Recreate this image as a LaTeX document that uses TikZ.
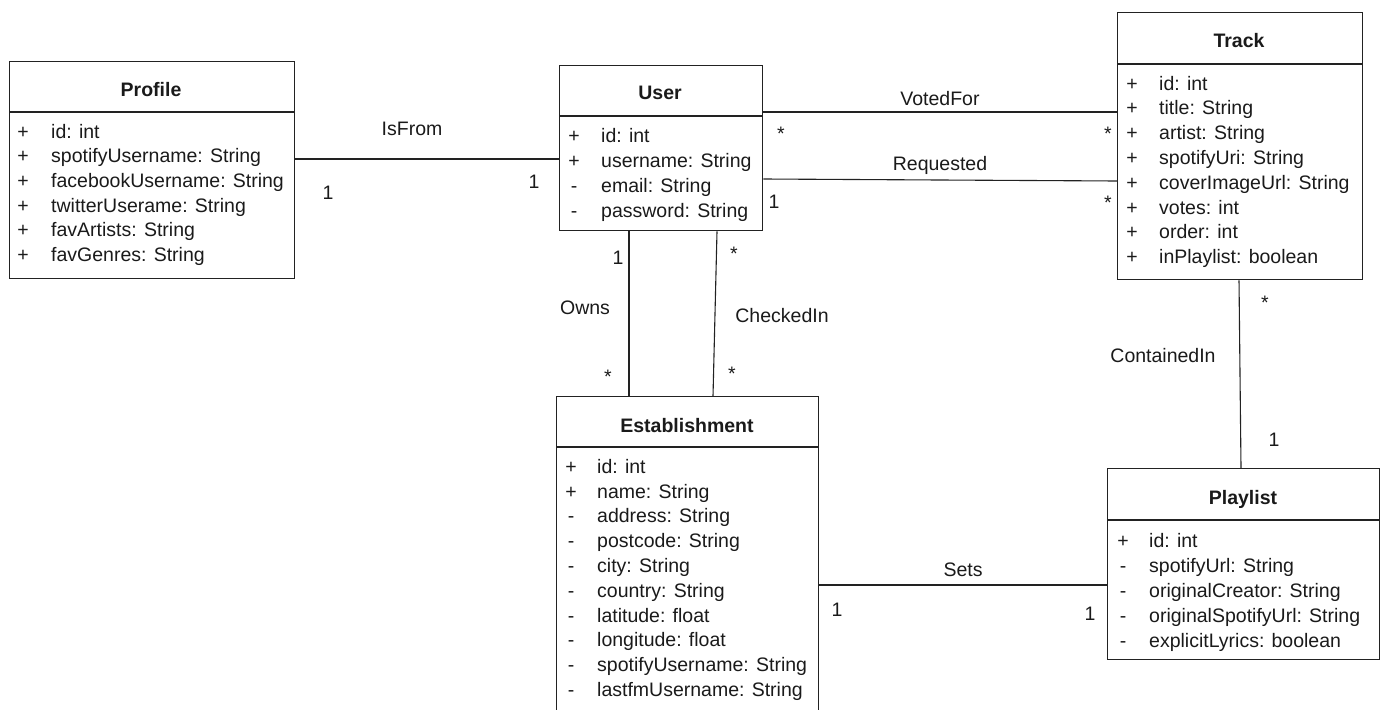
\documentclass[tikz,border=0pt]{standalone}
\usepackage{fontspec}
\setmainfont{Liberation Sans}
\definecolor{ink}{HTML}{1A1A1A}
\definecolor{edge}{HTML}{222222}
\begin{document}
\begin{tikzpicture}[x=1pt,y=-1pt,
  classbox/.style={draw=edge, line width=1.3pt, rectangle, inner sep=0pt, anchor=north west},
  ctitle/.style={font=\fontsize{19.5}{23}\selectfont\bfseries, text=ink, anchor=base, inner sep=0pt},
  attr/.style={font=\fontsize{19.5}{23}\selectfont, text=ink, anchor=base west, inner sep=0pt},
  vis/.style={font=\fontsize{19.5}{23}\selectfont, text=ink, anchor=base, inner sep=0pt},
  assoc/.style={draw=edge, line width=1.1pt},
  divider/.style={draw=edge, line width=1.3pt},
  lbl/.style={font=\fontsize{19.5}{23}\selectfont, text=ink, anchor=base, inner sep=0pt},
]
\useasboundingbox (0,0) rectangle (1388,709);

% ---------- class boxes ----------
\node[classbox, minimum width=285pt, minimum height=217pt] (profile) at (9,61) {};
\node[classbox, minimum width=203pt, minimum height=165pt] (user) at (559,65) {};
\node[classbox, minimum width=245pt, minimum height=267pt] (track) at (1117,12) {};
\node[classbox, minimum width=262pt, minimum height=330pt] (estab) at (556,396) {};
\node[classbox, minimum width=272pt, minimum height=191pt] (playlist) at (1107,468) {};

% compartment dividers
\draw[divider] (profile.west |- 0,112) -- (profile.east |- 0,112);
\draw[divider] (user.west |- 0,116) -- (user.east |- 0,116);
\draw[divider] (track.west |- 0,64) -- (track.east |- 0,64);
\draw[divider] (estab.west |- 0,447) -- (estab.east |- 0,447);
\draw[divider] (playlist.west |- 0,520) -- (playlist.east |- 0,520);

% class names
\node[ctitle] (tprofile) at (151,96) {Profile};
\node[ctitle] (tuser) at (660,99) {User};
\node[ctitle] (ttrack) at (1239,48) {Track};
\node[ctitle] (testab) at (687,432) {Establishment};
\node[ctitle] (tplaylist) at (1243,504) {Playlist};

% ---------- attributes ----------
\foreach [count=\i from 0] \s/\t in {+/id: int, +/spotifyUsername: String, +/facebookUsername: String, +/twitterUserame: String, +/favArtists: String, +/favGenres: String}{
  \node[vis] (pv\i) at (23,138+24.7*\i) {\s};
  \node[attr] (pa\i) at (51,138+24.7*\i) {\t};
}
\foreach [count=\i from 0] \s/\t in {+/id: int, +/username: String, -/email: String, -/password: String}{
  \node[vis] (uv\i) at (574,142.3+25.2*\i) {\s};
  \node[attr] (ua\i) at (601,142.3+25.2*\i) {\t};
}
\foreach [count=\i from 0] \s/\t in {+/id: int, +/title: String, +/artist: String, +/spotifyUri: String, +/coverImageUrl: String, +/votes: int, +/order: int, +/inPlaylist: boolean}{
  \node[vis] (tv\i) at (1132,90+24.8*\i) {\s};
  \node[attr] (ta\i) at (1159,90+24.8*\i) {\t};
}
\foreach [count=\i from 0] \s/\t in {+/id: int, +/name: String, -/address: String, -/postcode: String, -/city: String, -/country: String, -/latitude: float, -/longitude: float, -/spotifyUsername: String, -/lastfmUsername: String}{
  \node[vis] (ev\i) at (571,473.3+24.8*\i) {\s};
  \node[attr] (ea\i) at (597,473.3+24.8*\i) {\t};
}
\foreach [count=\i from 0] \s/\t in {+/id: int, -/spotifyUrl: String, -/originalCreator: String, -/originalSpotifyUrl: String, -/explicitLyrics: boolean}{
  \node[vis] (lv\i) at (1123,547.3+25*\i) {\s};
  \node[attr] (la\i) at (1149,547.3+25*\i) {\t};
}

% ---------- associations ----------
\draw[assoc] (profile.east |- 0,159) -- (user.west |- 0,159);
\draw[assoc] (user.east |- 0,112) -- (track.west |- 0,112);
\draw[assoc] (user.east |- 0,179) -- (track.west |- 0,181);
\draw[assoc] (user.south -| 629,0) -- (estab.north -| 629,0);
\draw[assoc] (user.south -| 717,0) -- (estab.north -| 713,0);
\draw[assoc] (track.south -| 1239,0) -- (playlist.north -| 1241,0);
\draw[assoc] (estab.east |- 0,585) -- (playlist.west |- 0,585);

% association names and multiplicities
\node[lbl] (nisfrom) at (412,135.7) {IsFrom};
\node[lbl] (m1) at (328,199) {1};
\node[lbl] (m2) at (534,188.3) {1};

\node[lbl] (nvoted) at (940,105) {VotedFor};
\node[lbl] (m3) at (781,140.5) {*};
\node[lbl] (m4) at (1108,140.5) {*};

\node[lbl] (nreq) at (940,170.5) {Requested};
\node[lbl] (m5) at (774,208) {1};
\node[lbl] (m6) at (1108,209) {*};

\node[lbl] (nowns) at (585,314.3) {Owns};
\node[lbl] (m7) at (618,264.3) {1};
\node[lbl] (m8) at (608,383) {*};

\node[lbl] (ncheck) at (782,322.3) {CheckedIn};
\node[lbl] (m9) at (734,260.7) {*};
\node[lbl] (m10) at (732,380) {*};

\node[lbl] (ncont) at (1163,362.3) {ContainedIn};
\node[lbl] (m11) at (1265,309) {*};
\node[lbl] (m12) at (1274,446) {1};

\node[lbl] (nsets) at (963,576.7) {Sets};
\node[lbl] (m13) at (837,616) {1};
\node[lbl] (m14) at (1090,620.7) {1};
\end{tikzpicture}
\end{document}
